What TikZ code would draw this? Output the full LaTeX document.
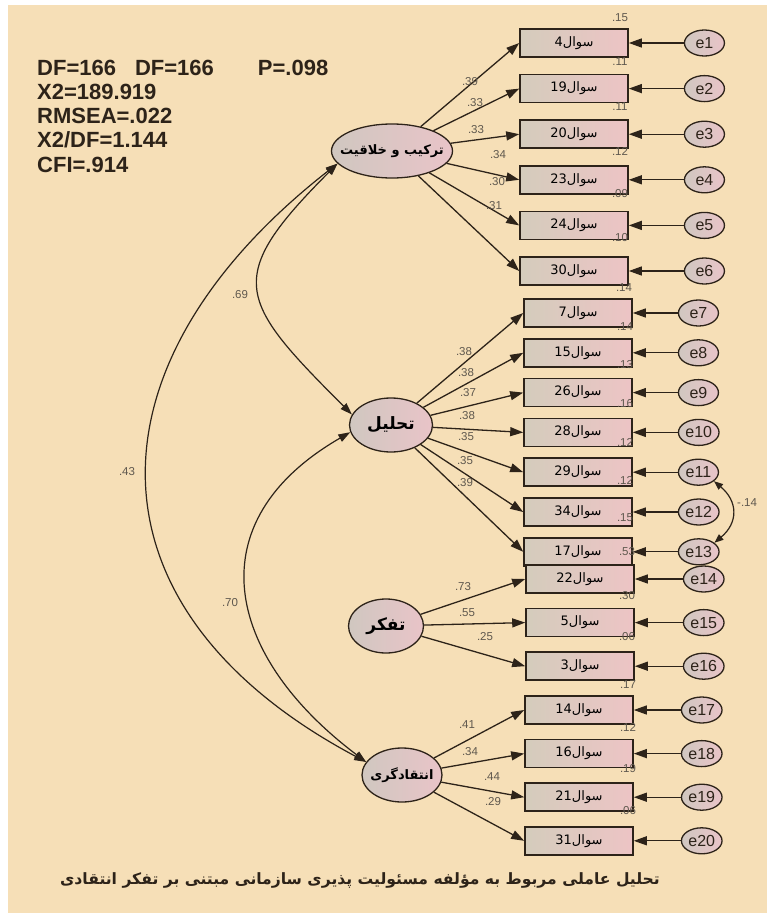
\documentclass[tikz,border=0pt]{standalone}
\usepackage{fontspec}
\setmainfont{Liberation Sans}
\newfontfamily\farsi[Script=Arabic]{DejaVu Sans}
\TeXXeTstate=1
\usetikzlibrary{
  shapes.geometric,
  arrows.meta,
  positioning
}
\definecolor{pagebg}{RGB}{246, 223, 183}
\definecolor{boxleft}{RGB}{212, 204, 188}
\definecolor{boxright}{RGB}{237, 196, 197}
\definecolor{ovalleft}{RGB}{208, 199, 192}
\definecolor{ovalright}{RGB}{233, 196, 200}
\definecolor{inkdark}{RGB}{45, 35, 25}
\definecolor{numgray}{RGB}{95, 88, 78}
\newcommand{\fa}[1]{{\farsi\beginR #1\endR}}
\newcommand{\fazero}[1]{\makebox[0pt]{\farsi\bfseries\beginR #1\endR}}
\newcommand{\qlab}[1]{{\farsi\beginR سوال\beginL #1\endL\endR}}
\tikzset{
  obs/.style = {
    rectangle, draw=inkdark, line width=1.6pt,
    left color=boxleft, right color=boxright,
    minimum width=108pt, minimum height=28pt, inner sep=0pt,
    font=\fontsize{13}{15}\selectfont
  },
  latent/.style = {
    ellipse, draw=inkdark, line width=1.3pt,
    left color=ovalleft, right color=ovalright,
    minimum width=#1, minimum height=54pt, inner sep=0pt
  },
  latent/.default = 80pt,
  err/.style = {
    ellipse, draw=inkdark, line width=1.3pt,
    left color=ovalleft, right color=ovalright,
    minimum width=40pt, minimum height=26pt, inner sep=1pt,
    font=\fontsize{16}{18}\selectfont, text=inkdark
  },
  arr/.style = {-{Triangle[length=13pt,width=9pt]}, draw=inkdark, line width=1.3pt},
  arrboth/.style = {{Triangle[length=12pt,width=8pt]}-{Triangle[length=12pt,width=8pt]},
    draw=inkdark, line width=1.2pt},
  arrsmall/.style = {{Triangle[length=9pt,width=7pt]}-{Triangle[length=9pt,width=7pt]},
    draw=inkdark, line width=1.2pt},
  num/.style = {font=\fontsize{11.5}{13}\selectfont, text=numgray, inner sep=0pt},
  stats/.style = {font=\bfseries\fontsize{22}{24.3}\selectfont, text=inkdark,
    align=left, inner sep=0pt},
}

\begin{document}
\begin{tikzpicture}[x=1pt, y=1pt]

  \useasboundingbox (0,0) rectangle (767,-913);
  \fill[white] (0,0) rectangle (767,-913);
  \fill[pagebg] (8,-5) rectangle (767,-913);

  \node[stats, anchor=north west] (fit) at (37,-59.5)
    {DF=166\hspace{19pt}DF=166\hspace{44pt}P=.098\\X2=189.919\\RMSEA=.022\\X2/DF=1.144\\CFI=.914};

  %% latent factors
  \node[latent=121pt] (synth)    at (392,-151) {\fontsize{13}{15}\selectfont\fazero{ترکیب و خلاقیت}};
  \node[latent=83pt]  (analysis) at (391,-425) {\fontsize{17}{19}\selectfont\fazero{تحلیل}};
  \node[latent=75pt]  (thinking) at (386,-626) {\fontsize{17}{19}\selectfont\fazero{تفکر}};
  \node[latent=80pt]  (critic)   at (402,-775) {\fontsize{13}{15}\selectfont\fazero{انتقادگری}};

  %% items: synthesis
  \node[obs] (q4) at (574,-43) {\qlab{4}};
  \node[obs, below=16pt of q4]  (q19) {\qlab{19}};
  \node[obs, below=16pt of q19] (q20) {\qlab{20}};
  \node[obs, below=16pt of q20] (q23) {\qlab{23}};
  \node[obs, below=16pt of q23] (q24) {\qlab{24}};
  \node[obs, below=16pt of q24] (q30) {\qlab{30}};

  %% items: analysis
  \node[obs] (q7) at (578,-313) {\qlab{7}};
  \node[obs, below=10.2pt of q7]  (q15) {\qlab{15}};
  \node[obs, below=10.2pt of q15] (q26) {\qlab{26}};
  \node[obs, below=10.2pt of q26] (q28) {\qlab{28}};
  \node[obs, below=10.2pt of q28] (q29) {\qlab{29}};
  \node[obs, below=10.2pt of q29] (q34) {\qlab{34}};
  \node[obs, below=10.2pt of q34] (q17) {\qlab{17}};

  %% items: thinking
  \node[obs] (q22) at (580,-579) {\qlab{22}};
  \node[obs, below=14pt of q22] (q5) {\qlab{5}};
  \node[obs, below=14pt of q5]  (q3) {\qlab{3}};

  %% items: critical
  \node[obs] (q14) at (579,-710) {\qlab{14}};
  \node[obs, below=14pt of q14] (q16) {\qlab{16}};
  \node[obs, below=14pt of q16] (q21) {\qlab{21}};
  \node[obs, below=14pt of q21] (q31) {\qlab{31}};

  %% error terms
  \node[err, right=55pt of q4]  (e1) {e1};
  \node[err, right=55pt of q19] (e2) {e2};
  \node[err, right=55pt of q20] (e3) {e3};
  \node[err, right=55pt of q23] (e4) {e4};
  \node[err, right=55pt of q24] (e5) {e5};
  \node[err, right=55pt of q30] (e6) {e6};
  \node[err, right=45pt of q7]  (e7) {e7};
  \node[err, right=45pt of q15] (e8) {e8};
  \node[err, right=45pt of q26] (e9) {e9};
  \node[err, right=45pt of q28] (e10) {e10};
  \node[err, right=45pt of q29] (e11) {e11};
  \node[err, right=45pt of q34] (e12) {e12};
  \node[err, right=45pt of q17] (e13) {e13};
  \node[err, right=48pt of q22] (e14) {e14};
  \node[err, right=48pt of q5]  (e15) {e15};
  \node[err, right=48pt of q3]  (e16) {e16};
  \node[err, right=47pt of q14] (e17) {e17};
  \node[err, right=47pt of q16] (e18) {e18};
  \node[err, right=47pt of q21] (e19) {e19};
  \node[err, right=47pt of q31] (e20) {e20};

  %% loadings
  \draw[arr] (synth) -- (q4.west);
  \draw[arr] (synth) -- (q19.west);
  \draw[arr] (synth) -- (q20.west);
  \draw[arr] (synth) -- (q23.west);
  \draw[arr] (synth) -- (q24.west);
  \draw[arr] (synth) -- (q30.west);
  \draw[arr] (analysis) -- (q7.west);
  \draw[arr] (analysis) -- (q15.west);
  \draw[arr] (analysis) -- (q26.west);
  \draw[arr] (analysis) -- (q28.west);
  \draw[arr] (analysis) -- (q29.west);
  \draw[arr] (analysis) -- (q34.west);
  \draw[arr] (analysis) -- (q17.west);
  \draw[arr] (thinking) -- (q22.west);
  \draw[arr] (thinking) -- (q5.west);
  \draw[arr] (thinking) -- (q3.west);
  \draw[arr] (critic) -- (q14.west);
  \draw[arr] (critic) -- (q16.west);
  \draw[arr] (critic) -- (q21.west);
  \draw[arr] (critic) -- (q31.west);

  %% residuals
  \draw[arr] (e1) -- (q4);   \draw[arr] (e2) -- (q19);
  \draw[arr] (e3) -- (q20);  \draw[arr] (e4) -- (q23);
  \draw[arr] (e5) -- (q24);  \draw[arr] (e6) -- (q30);
  \draw[arr] (e7) -- (q7);   \draw[arr] (e8) -- (q15);
  \draw[arr] (e9) -- (q26);  \draw[arr] (e10) -- (q28);
  \draw[arr] (e11) -- (q29); \draw[arr] (e12) -- (q34);
  \draw[arr] (e13) -- (q17); \draw[arr] (e14) -- (q22);
  \draw[arr] (e15) -- (q5);  \draw[arr] (e16) -- (q3);
  \draw[arr] (e17) -- (q14); \draw[arr] (e18) -- (q16);
  \draw[arr] (e19) -- (q21); \draw[arr] (e20) -- (q31);

  %% covariances
  \draw[arrboth] (synth.193) to[out=225, in=135, looseness=1.65] (analysis.165);
  \draw[arrboth] (synth.193) to[out=218, in=152, looseness=1.39] (critic.160);
  \draw[arrboth] (analysis.190) to[out=210, in=143, looseness=1.38] (critic.160);
  \draw[arrsmall] (e11.-30) to[out=-40, in=40, looseness=1.3] (e13.30);

  \node[num] (c69) at (240,-295) {.69};
  \node[num] (c43) at (127,-472) {.43};
  \node[num] (c70) at (230,-603) {.70};
  \node[num, anchor=west] (c14) at (737,-503) {-.14};

  %% loading values
  \node[num] (l4)  at (470,-82)  {.39};
  \node[num] (l19) at (475,-103) {.33};
  \node[num] (l20) at (476,-130) {.33};
  \node[num] (l23) at (498,-155) {.34};
  \node[num] (l24) at (497,-182) {.30};
  \node[num] (l30) at (494,-206) {.31};
  \node[num] (l7)  at (464,-352) {.38};
  \node[num] (l15) at (466,-373) {.38};
  \node[num] (l26) at (468,-393) {.37};
  \node[num] (l28) at (467,-416) {.38};
  \node[num] (l29) at (466,-437) {.35};
  \node[num] (l34) at (465,-461) {.35};
  \node[num] (l17) at (465,-483) {.39};
  \node[num] (l22) at (463,-587) {.73};
  \node[num] (l5)  at (467,-613) {.55};
  \node[num] (l3)  at (485,-637) {.25};
  \node[num] (l14) at (467,-725) {.41};
  \node[num] (l16) at (470,-752) {.34};
  \node[num] (l21) at (492,-777) {.44};
  \node[num] (l31) at (493,-802) {.29};

  %% squared multiple correlations
  \node[num] (r4)  at (620,-18)  {.15};
  \node[num] (r19) at (620,-62)  {.11};
  \node[num] (r20) at (620,-107) {.11};
  \node[num] (r23) at (620,-151) {.12};
  \node[num] (r24) at (620,-194) {.09};
  \node[num] (r30) at (620,-238) {.10};
  \node[num] (r7)  at (624,-288) {.14};
  \node[num] (r15) at (625,-327) {.14};
  \node[num] (r26) at (625,-365) {.13};
  \node[num] (r28) at (625,-404) {.16};
  \node[num] (r29) at (625,-442) {.12};
  \node[num] (r34) at (625,-480) {.12};
  \node[num] (r17) at (625,-518) {.15};
  \node[num] (r22) at (627,-552) {.53};
  \node[num] (r5)  at (627,-596) {.30};
  \node[num] (r3)  at (627,-637) {.06};
  \node[num] (r14) at (628,-685) {.17};
  \node[num] (r16) at (628,-727) {.12};
  \node[num] (r21) at (628,-769) {.19};
  \node[num] (r31) at (628,-811) {.06};

  \node[font=\bfseries\fontsize{15.6}{18}\selectfont, text=inkdark] (title) at (360,-880)
    {\fa{تحلیل عاملی مربوط به مؤلفه مسئولیت پذیری سازمانی مبتنی بر تفکر انتقادی}};

\end{tikzpicture}
\end{document}
